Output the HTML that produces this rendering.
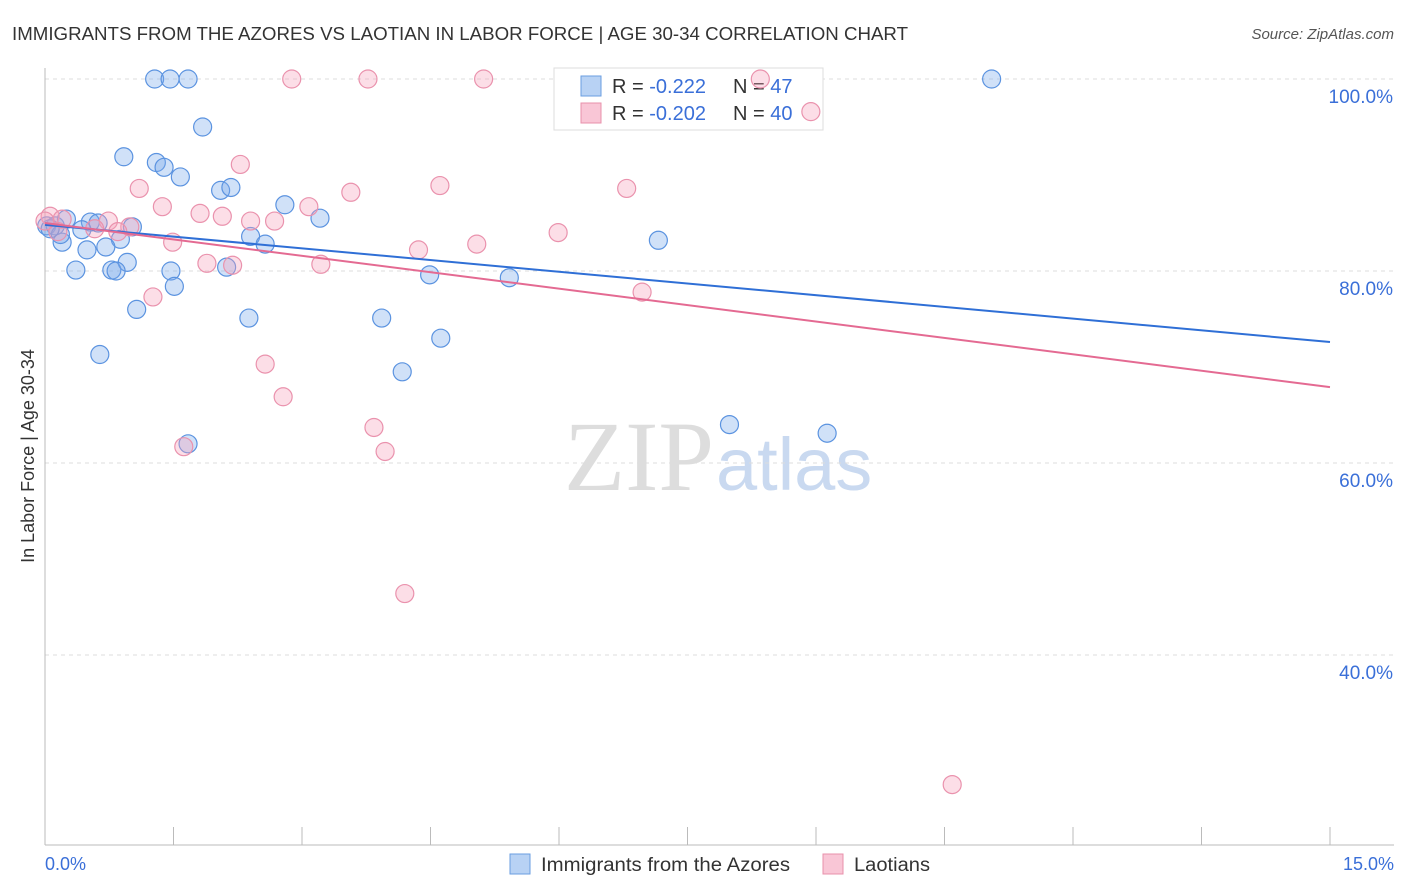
<!DOCTYPE html>
<html><head><meta charset="utf-8"><style>
body{margin:0;background:#fff;font-family:"Liberation Sans",sans-serif}
</style></head><body>
<svg width="1406" height="892" style="display:block">
<text x="12" y="40" font-size="18" fill="#333" textLength="896" lengthAdjust="spacingAndGlyphs">IMMIGRANTS FROM THE AZORES VS LAOTIAN IN LABOR FORCE | AGE 30-34 CORRELATION CHART</text>
<text x="1394" y="39" font-size="15" fill="#555" font-style="italic" text-anchor="end">Source: ZipAtlas.com</text>
<text x="714" y="490" font-size="100" fill="#ddd" text-anchor="end" font-family="Liberation Serif,serif">ZIP</text>
<text x="716" y="490" font-size="74" fill="#c9d9f0">atlas</text>
<g id="grid"></g>
<line x1="45" y1="68" x2="45" y2="845" stroke="#bbb"/>
<line x1="45" y1="845" x2="1394" y2="845" stroke="#bbb"/>
<g id="xt"></g>
<text x="34" y="456" font-size="18" fill="#333" text-anchor="middle" transform="rotate(-90 34 456)">In Labor Force | Age 30-34</text>
<text x="45" y="870" font-size="18" fill="#3a6fd8">0.0%</text>
<text x="1394" y="870" font-size="18" fill="#3a6fd8" text-anchor="end">15.0%</text>
<g>
<rect x="554" y="68" width="269" height="62" fill="#fff" stroke="#ddd"/>
<rect x="581" y="76" width="20" height="20" fill="#b8d2f4" stroke="#6a9ee0"/>
<rect x="581" y="103" width="20" height="20" fill="#f9c6d6" stroke="#e890ab"/>
<text x="612" y="93" font-size="20" fill="#333">R = <tspan fill="#3a6fd8">-0.222</tspan><tspan x="733">N = </tspan><tspan fill="#3a6fd8">47</tspan></text>
<text x="612" y="120" font-size="20" fill="#333">R = <tspan fill="#3a6fd8">-0.202</tspan><tspan x="733">N = </tspan><tspan fill="#3a6fd8">40</tspan></text>
</g>
<g id="pts"></g>
<g id="lines"></g>
<g>
<rect x="510" y="854" width="20" height="20" fill="#b8d2f4" stroke="#6a9ee0"/>
<text x="541" y="871" font-size="19" fill="#333" textLength="249" lengthAdjust="spacingAndGlyphs">Immigrants from the Azores</text>
<rect x="823" y="854" width="20" height="20" fill="#f9c6d6" stroke="#e890ab"/>
<text x="854" y="871" font-size="19" fill="#333" textLength="76" lengthAdjust="spacingAndGlyphs">Laotians</text>
</g>
</svg>
<script>
const yTicks=[100,80,60,40];
const xTicks=[0,1.5,3,4.5,6,7.5,9,10.5,12,13.5,15];
const blueX=[1.28,1.46,1.67,11.05,1.84,0.92,1.30,1.39,1.58,2.05,2.17,2.80,3.21,0.02,0.12,0.25,0.53,0.62,0.43,1.02,2.40,2.57,0.20,0.88,0.49,0.71,0.96,0.36,0.78,0.83,1.47,2.12,1.51,1.07,2.38,3.93,4.49,5.42,7.16,4.62,0.64,4.17,7.99,9.13,1.67,0.18,0.06];
const blueY=[100,100,100,100,95.0,91.9,91.3,90.8,89.8,88.4,88.7,86.9,85.5,84.7,84.7,85.4,85.1,85.0,84.3,84.6,83.6,82.8,83.0,83.3,82.2,82.5,80.9,80.1,80.1,80.0,80.0,80.4,78.4,76.0,75.1,75.1,79.6,79.3,83.2,73.0,71.3,69.5,64.0,63.1,62.0,83.8,84.4];
const pinkX=[2.88,3.77,5.12,8.35,8.94,2.28,1.10,1.37,1.81,2.07,2.40,2.68,3.08,3.57,4.61,6.79,0.06,0.20,0.15,0.74,0.99,0.85,1.49,1.89,2.19,3.22,4.36,5.04,5.99,1.26,6.97,2.57,2.78,3.84,3.97,1.62,4.20,10.59,0,0.58];
const pinkY=[100,100,100,100,96.6,91.1,88.6,86.7,86.0,85.7,85.2,85.2,86.7,88.2,88.9,88.6,85.7,85.4,84.1,85.2,84.6,84.1,83.0,80.8,80.6,80.7,82.2,82.8,84.0,77.3,77.8,70.3,66.9,63.7,61.2,61.7,46.4,26.5,85.2,84.4];
const trendBlue=[84.8,72.6];
const trendPink=[85.0,67.9];
const X=v=>45+v/15*1285, Y=v=>79+(100-v)*9.6;
const NS='http://www.w3.org/2000/svg';
function mk(t,a,p){const e=document.createElementNS(NS,t);for(const k in a)e.setAttribute(k,a[k]);document.getElementById(p).appendChild(e);return e;}
yTicks.forEach(v=>{
 const l=mk('line',{x1:45,x2:1394,y1:Y(v),y2:Y(v),stroke:'#ddd','stroke-dasharray':'4 4'},'grid');
 
 
 const t=mk('text',{x:1393,y:Y(v)+24,'font-size':19,fill:'#3a6fd8','text-anchor':'end'},'grid');t.textContent=v.toFixed(1)+'%';
 
 
});
xTicks.forEach(v=>{
 const l=mk('line',{x1:X(v),x2:X(v),y1:827,y2:845,stroke:'#bbb'},'xt');
 
 
});
blueX.forEach((v,i)=>{
 const c=mk('circle',{cx:X(v),cy:Y(blueY[i]),r:9,fill:'rgba(120,170,235,0.35)',stroke:'#5b93e0','stroke-width':1.2},'pts');
 
 
});
pinkX.forEach((v,i)=>{
 const c=mk('circle',{cx:X(v),cy:Y(pinkY[i]),r:9,fill:'rgba(245,160,185,0.35)',stroke:'#ea92ad','stroke-width':1.2},'pts');
 
 
});
const lb=mk('line',{x1:X(0),y1:Y(trendBlue[0]),x2:X(15),y2:Y(trendBlue[1]),stroke:'#2f6fd6','stroke-width':2},'lines');


const lp=mk('line',{x1:X(0),y1:Y(trendPink[0]),x2:X(15),y2:Y(trendPink[1]),stroke:'#e46a92','stroke-width':2},'lines');


</script>
</body></html>
